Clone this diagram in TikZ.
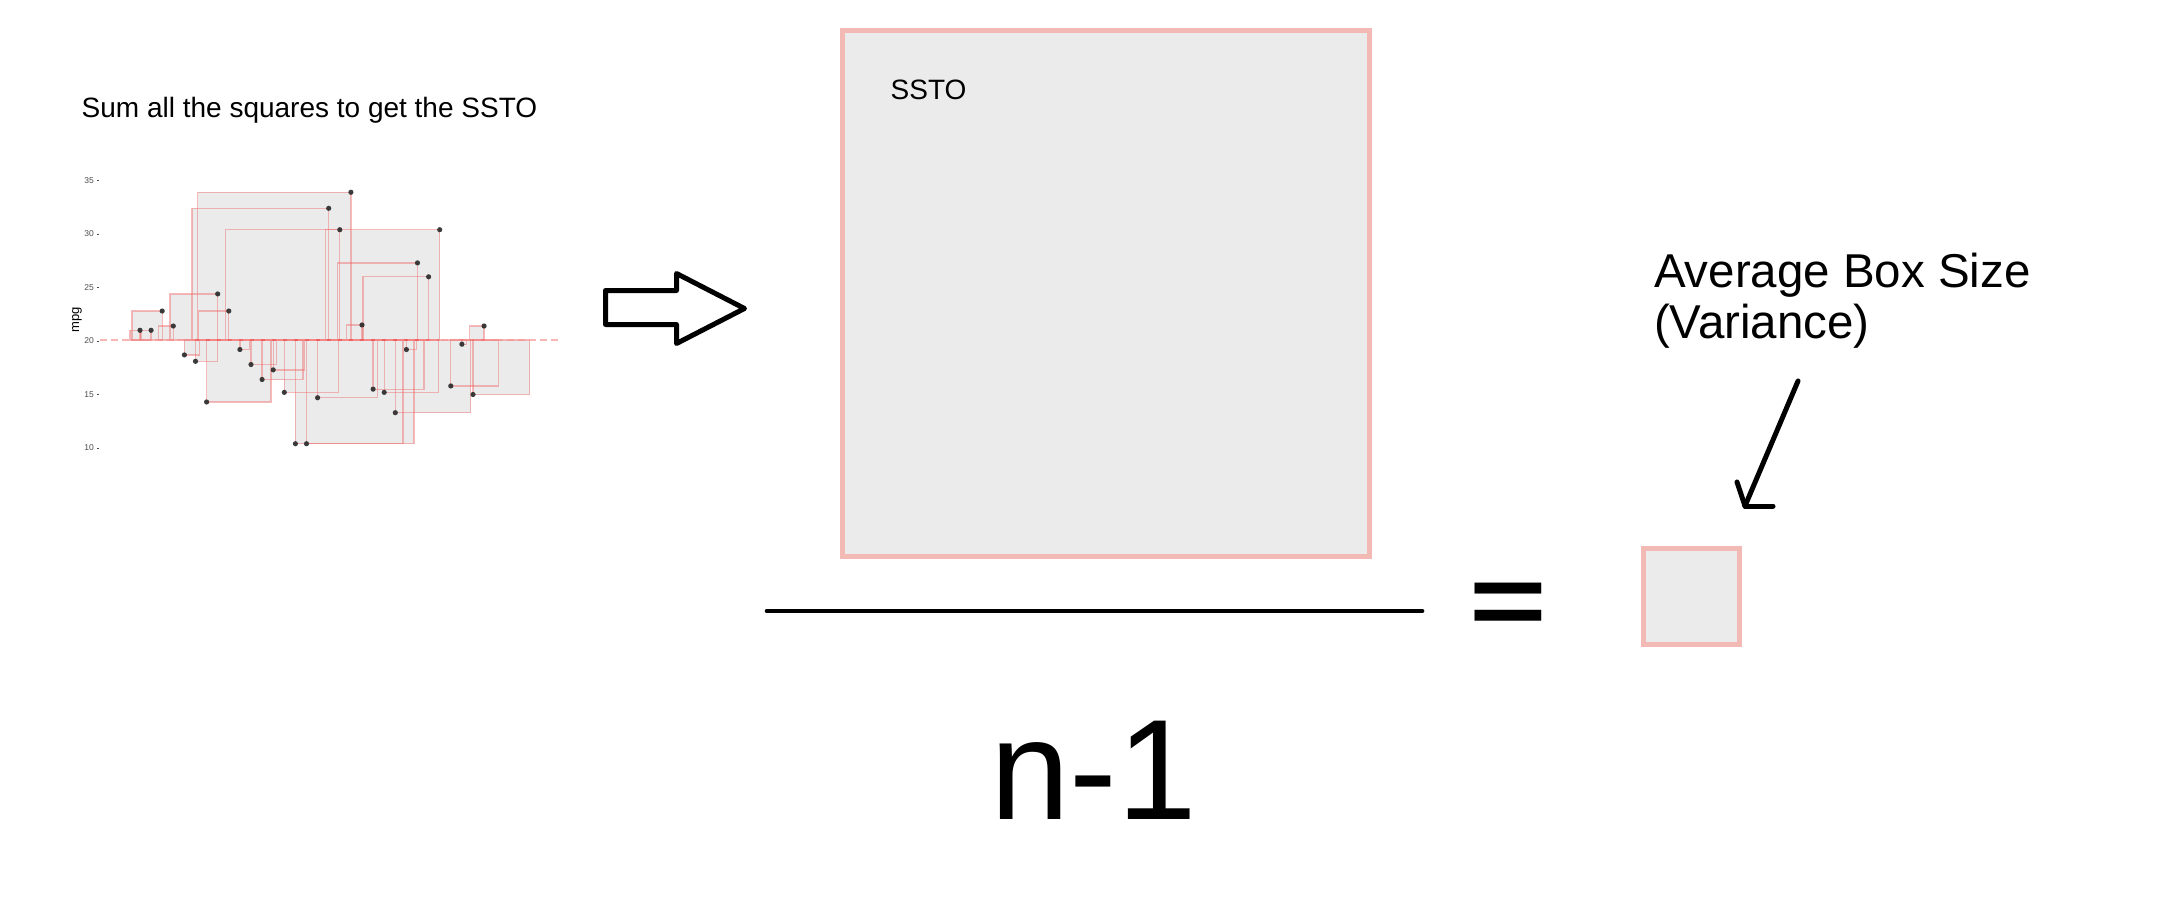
\documentclass[tikz,border=0pt]{standalone}
\usepackage{fontspec}
\setmainfont{Liberation Sans}
\definecolor{boxpink}{RGB}{242,185,181}
\definecolor{boxgray}{RGB}{235,235,235}
\definecolor{sqred}{RGB}{240,95,95}
\definecolor{meanpink}{RGB}{248,150,150}
\definecolor{tickgray}{RGB}{77,77,77}
\definecolor{ptcol}{RGB}{40,40,40}
\begin{document}
\begin{tikzpicture}[x=1pt,y=-1pt,
  sqfill/.style={fill=boxgray},
  sqline/.style={draw=sqred, draw opacity=0.42, line width=1.3pt},
  meanline/.style={draw=meanpink, draw opacity=0.7, line width=2pt, dash pattern=on 7pt off 4pt},
  ptstyle/.style={fill=ptcol, fill opacity=0.9},
  ticklab/.style={font=\fontsize{8.5pt}{9pt}\selectfont, text=tickgray, inner sep=0pt, anchor=east},
  tickmark/.style={draw=tickgray, line width=0.8pt},
  bigbox/.style={draw=boxpink, fill=boxgray, inner sep=0pt},
  plaintext/.style={inner sep=0pt, outer sep=0pt, text=black},
  blockarrow/.style={draw=black, line width=5pt, line join=round},
  pointer/.style={draw=black, line width=5pt, line cap=round, line join=round}]
\useasboundingbox[fill=white] (0,0) rectangle (2172,920);

% title
\node[plaintext, anchor=base west, font=\fontsize{28pt}{32pt}\selectfont] (title) at (81.7,118) {Sum all the squares to get the SSTO};

% chart of squares
\begin{scope}[xshift=128.9pt, yshift=-555pt, x={(11.1pt,0pt)}, y={(0pt,10.7pt)}]
  \def\m{20.090625}
  \def\data{1/21.0, 2/21.0, 3/22.8, 4/21.4, 5/18.7, 6/18.1, 7/14.3, 8/24.4,
    9/22.8, 10/19.2, 11/17.8, 12/16.4, 13/17.3, 14/15.2, 15/10.4, 16/10.4,
    17/14.7, 18/32.4, 19/30.4, 20/33.9, 21/21.5, 22/15.5, 23/15.2, 24/13.3,
    25/19.2, 26/27.3, 27/26.0, 28/30.4, 29/15.8, 30/19.7, 31/15.0, 32/21.4}
  \foreach \i/\v in \data {\fill[sqfill] (\i,\m) rectangle ({\i-(\v-\m)},\v);}
  \foreach \i/\v in \data {\draw[sqline] (\i,\m) rectangle ({\i-(\v-\m)},\v);}
  \coordinate (meanL) at (-2.6,\m);
  \coordinate (meanR) at (38.66,\m);
  \draw[meanline] (meanL) -- (meanR);
  \foreach \i/\v in \data {\fill[ptstyle] (\i,\v) circle (2.6pt);}
  \foreach \t in {10,15,20,25,30,35} {
    \node[ticklab] (tick\t) at (-3.14,\t) {\t};
    \draw[tickmark] (-2.91,\t) -- (-2.65,\t);
  }
  \node[inner sep=0pt, rotate=90, font=\fontsize{13pt}{14pt}\selectfont, text=black] (mpglab) at (-4.68,21.96) {mpg};
\end{scope}

% block arrow
\draw[blockarrow] (605.5,290.5) -- (676.5,290.5) -- (676.5,273.5) -- (744.5,308.5)
  -- (676.5,343.5) -- (676.5,324.5) -- (605.5,324.5) -- cycle;

% SSTO box
\node[bigbox, line width=4.7pt, minimum width=527.4pt, minimum height=526.4pt] (ssto) at (1106,293.5) {};
\node[plaintext, anchor=base west, font=\fontsize{28pt}{32pt}\selectfont] (sstolab) at (890.7,100) {SSTO};

% fraction line
\coordinate (fracL) at (767,611);
\coordinate (fracR) at (1422,611);
\draw[line width=4.7pt, line cap=round] (fracL) -- (fracR);

% equals and n-1
\node[plaintext, anchor=center, font=\bfseries\fontsize{140pt}{150pt}\selectfont, xscale=0.95, yscale=0.72] (eq) at (1508.5,609) {=};
\node[plaintext, anchor=base west, font=\fontsize{143pt}{150pt}\selectfont] (nminus) at (990,819) {n-1};

% variance box
\node[bigbox, line width=4.5pt, minimum width=96.4pt, minimum height=96.4pt] (avg) at (1691.5,596.5) {};

% label and pointer
\node[plaintext, anchor=north west, align=left, font=\fontsize{47.5pt}{51pt}\selectfont] (avglab) at (1654,253) {Average Box Size\\(Variance)};
\coordinate (ptrstart) at (1798,381);
\coordinate (ptrtip) at (1745,506);
\draw[pointer] (ptrstart) -- (ptrtip);
\draw[pointer] (ptrtip) -- ++(-8,-24);
\draw[pointer] (ptrtip) -- ++(28,0);
\end{tikzpicture}
\end{document}
